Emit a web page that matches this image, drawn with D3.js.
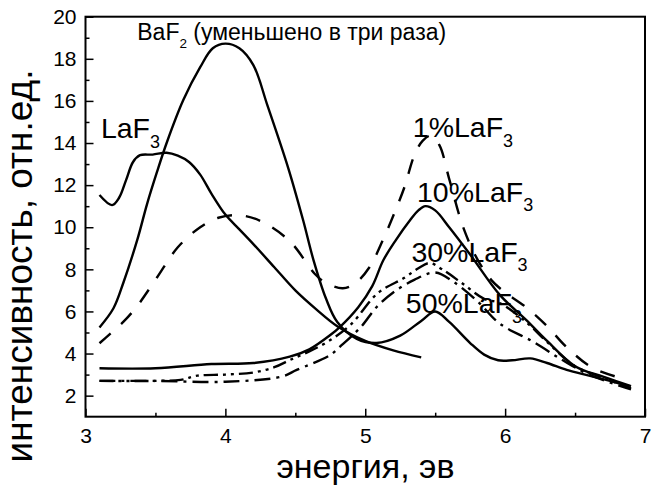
<!DOCTYPE html>
<html><head><meta charset="utf-8">
<script src="https://cdn.jsdelivr.net/npm/d3@7"></script>
<style>
html,body{margin:0;padding:0;background:#fff;}
svg text{font-family:"Liberation Sans",Arial,sans-serif;fill:#000;}
</style></head>
<body><svg id="c" width="653" height="488"></svg>
<script>
// ---------- data ----------
const xTicks = [3, 4, 5, 6, 7];
const yTicks = [2, 4, 6, 8, 10, 12, 14, 16, 18, 20];

const baf2X = [3.1, 3.2, 3.27, 3.37, 3.44, 3.51, 3.58, 3.7, 3.82, 3.91, 4.0, 4.1, 4.2, 4.3, 4.45, 4.556, 4.63, 4.72, 4.8, 4.94, 5.08, 5.25, 5.4, 5.5, 5.6, 5.75, 5.85, 5.95, 6.05, 6.18, 6.3, 6.44, 6.6, 6.75, 6.89];
const baf2Y = [5.24, 6.15, 7.35, 9.4, 11.1, 12.6, 14.0, 16.05, 17.6, 18.5, 18.72, 18.5, 17.7, 15.8, 12.8, 10.33, 8.44, 6.6, 5.5, 4.7, 4.5, 4.85, 5.55, 6.0, 5.5, 4.5, 3.95, 3.68, 3.68, 3.77, 3.55, 3.22, 2.95, 2.7, 2.45];

const laf3X = [3.1, 3.19, 3.24, 3.29, 3.34, 3.39, 3.48, 3.58, 3.66, 3.74, 3.82, 3.9, 4.0, 4.1, 4.2, 4.35, 4.5, 4.65, 4.8, 5.0, 5.2, 5.4];
const laf3Y = [11.53, 11.05, 11.4, 12.24, 13.1, 13.42, 13.45, 13.54, 13.4, 13.1, 12.5, 11.6, 10.6, 9.9, 9.2, 8.1, 7.0, 6.1, 5.3, 4.6, 4.15, 3.82];

const p1X = [3.1, 3.17, 3.27, 3.37, 3.51, 3.66, 3.82, 3.95, 4.1, 4.25, 4.46, 4.64, 4.72, 4.84, 4.93, 5.03, 5.14, 5.21, 5.28, 5.35, 5.41, 5.47, 5.53, 5.6, 5.7, 5.8, 5.9, 6.0, 6.15, 6.3, 6.44, 6.63, 6.85];
const p1Y = [4.49, 4.9, 5.5, 6.26, 7.6, 9.05, 10.0, 10.45, 10.57, 10.3, 9.34, 7.78, 7.35, 7.1, 7.35, 8.1, 9.6, 10.7, 11.9, 13.4, 14.1, 14.35, 13.9, 12.3, 10.0, 8.5, 7.5, 6.9, 6.2, 5.3, 4.3, 3.3, 2.8];

const p10X = [3.1, 3.5, 3.9, 4.2, 4.46, 4.6, 4.75, 4.82, 4.95, 5.05, 5.13, 5.22, 5.32, 5.38, 5.43, 5.5, 5.6, 5.75, 5.96, 6.15, 6.3, 6.5, 6.7, 6.9];
const p10Y = [3.3, 3.3, 3.5, 3.55, 3.85, 4.2, 4.88, 5.27, 6.2, 7.2, 8.44, 9.4, 10.33, 10.8, 11.0, 10.8, 10.0, 8.7, 6.8, 5.6, 4.6, 3.4, 2.9, 2.45];

const p30X = [3.1, 3.5, 3.68, 3.8, 4.0, 4.2, 4.35, 4.46, 4.6, 4.75, 4.9, 5.09, 5.28, 5.38, 5.46, 5.55, 5.7, 5.85, 5.96, 6.15, 6.3, 6.5, 6.7, 6.9];
const p30Y = [2.7, 2.7, 2.75, 2.95, 3.0, 3.1, 3.35, 3.69, 4.1, 4.64, 5.4, 6.87, 7.6, 8.05, 8.3, 8.0, 7.3, 6.6, 6.4, 5.5, 4.55, 3.4, 2.85, 2.35];

const p50X = [3.1, 3.5, 4.0, 4.4, 4.51, 4.75, 4.82, 4.97, 5.08, 5.2, 5.35, 5.5, 5.63, 5.8, 5.96, 6.2, 6.41, 6.6, 6.9];
const p50Y = [2.7, 2.7, 2.66, 2.9, 3.22, 3.93, 4.33, 5.27, 6.2, 6.9, 7.5, 7.85, 7.41, 6.5, 5.43, 4.56, 3.69, 3.0, 2.3];

// ---------- chart ----------
const svg = d3.select("#c");
const x = d3.scaleLinear().domain([3, 7]).range([85.5, 645]);
const y = d3.scaleLinear().domain([1, 20]).range([416.7, 16.7]);

const series = [
  {xs: baf2X, ys: baf2Y, dash: null},
  {xs: laf3X, ys: laf3Y, dash: null},
  {xs: p10X, ys: p10Y, dash: null},
  {xs: p1X, ys: p1Y, dash: "15,14"},
  {xs: p30X, ys: p30Y, dash: "14,5,3,5,3,5"},
  {xs: p50X, ys: p50Y, dash: "16,6,3,6"}
];
const line = d3.line().x(d => x(d[0])).y(d => y(d[1])).curve(d3.curveCatmullRom.alpha(0.5));
const g = svg.append("g");
series.forEach(s => {
  g.append("path")
    .attr("d", line(s.xs.map((v, i) => [v, s.ys[i]])))
    .attr("fill", "none").attr("stroke", "#000").attr("stroke-width", 2.4)
    .attr("stroke-dasharray", s.dash);
});

// axes (ticks inward)
const xAxis = d3.axisBottom(x).tickValues(xTicks).tickSize(-8).tickPadding(11).tickFormat(d3.format("d"));
const xMinor = d3.axisBottom(x).tickValues([3.5, 4.5, 5.5, 6.5]).tickSize(-4).tickFormat("");
const yAxis = d3.axisLeft(y).tickValues(yTicks).tickSize(-8).tickPadding(9).tickFormat(d3.format("d"));
const yMinor = d3.axisLeft(y).tickValues([3, 5, 7, 9, 11, 13, 15, 17, 19]).tickSize(-4).tickFormat("");

function style(sel) {
  sel.select(".domain").remove();
  sel.selectAll("line").attr("stroke", "#000").attr("stroke-width", 1.5);
  sel.selectAll("text").attr("font-size", 21).attr("font-family", "Liberation Sans, Arial, sans-serif").attr("fill", "#000");
}
svg.append("g").attr("transform", "translate(0,416.7)").call(xAxis).call(style);
svg.append("g").attr("transform", "translate(0,416.7)").call(xMinor).call(style);
svg.append("g").attr("transform", "translate(85.5,0)").call(yAxis).call(style);
svg.append("g").attr("transform", "translate(85.5,0)").call(yMinor).call(style);

svg.append("rect").attr("x", 85.5).attr("y", 16.7).attr("width", 645 - 85.5).attr("height", 416.7 - 16.7)
  .attr("fill", "none").attr("stroke", "#000").attr("stroke-width", 2);

// axis titles
svg.append("text").attr("x", 365.5).attr("y", 478).attr("text-anchor", "middle").attr("font-size", 34).text("энергия, эв");
svg.append("text").attr("transform", "translate(32,266) rotate(-90)").attr("text-anchor", "middle").attr("font-size", 37).text("интенсивность, отн.ед.");

// annotations (positions in data units)
function label(xv, yv, main, sub, size, subSize, rest) {
  const t = svg.append("text").attr("x", x(xv)).attr("y", y(yv)).attr("font-size", size);
  t.append("tspan").text(main);
  t.append("tspan").attr("font-size", subSize).attr("dy", size * 0.33).text(sub);
  if (rest) t.append("tspan").attr("dy", -size * 0.33).text(rest);
}
label(3.37, 18.89, "BaF", "2", 23, 13.5, " (уменьшено в три раза)");
label(3.11, 14.23, "LaF", "3", 28.5, 18);
label(5.34, 14.28, "1%LaF", "3", 28.5, 18);
label(5.37, 11.2, "10%LaF", "3", 28.5, 18);
label(5.33, 8.36, "30%LaF", "3", 28.5, 18);
label(5.29, 5.91, "50%LaF", "3", 28.5, 18);
</script></body></html>
